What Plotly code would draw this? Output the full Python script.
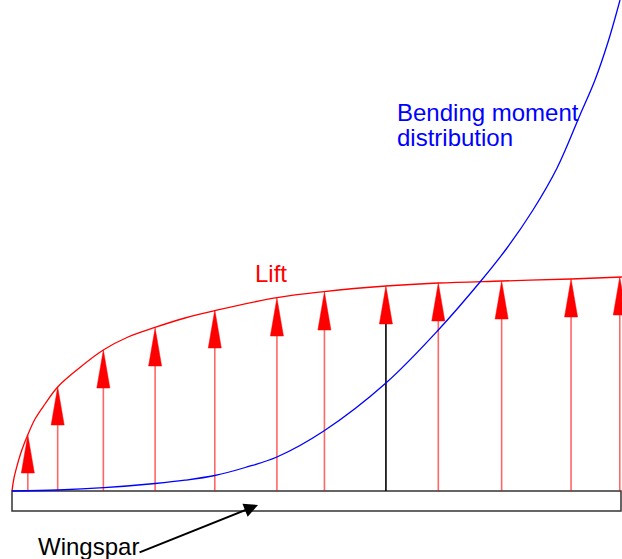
import plotly.graph_objects as go

# ---- data (span station in m, loads in arbitrary units) ----
lift_x = [0.0, 0.033, 0.082, 0.156, 0.258, 0.378, 0.542, 0.75, 1.084, 1.499, 1.905, 2.348, 2.84, 3.333, 4.351, 5.123, 6.141, 6.995, 8.046, 9.179, 10.016]
lift_y = [0.0, 0.65, 1.25, 2.0, 2.8, 3.6, 4.35, 5.2, 6.1, 7.05, 7.7, 8.18, 8.65, 9.02, 9.67, 9.97, 10.25, 10.4, 10.5, 10.6, 10.7]

moment_x = [0.0, 0.755, 1.51, 2.35, 2.84, 3.33, 3.83, 4.35, 5.12, 6.14, 7.0, 7.685, 8.128, 8.555, 8.95, 9.327, 9.573, 9.787, 9.984]
moment_y = [0.0, 0.05, 0.165, 0.375, 0.54, 0.775, 1.175, 1.7, 3.0, 5.4, 8.05, 10.45, 12.15, 14.05, 16.15, 18.8, 20.55, 22.45, 24.55]

arrow_x = [0.26, 0.75, 1.50, 2.35, 3.33, 4.35, 5.13, 6.14, 7.00, 8.04, 9.18, 9.98]
arrow_lift = [2.8, 5.2, 7.05, 8.15, 9.05, 9.65, 9.95, 10.25, 10.4, 10.5, 10.6, 10.7]
black_arrow_index = 7

spar_start, spar_end = 0.0, 10.0
spar_depth = 1.0

# ---- styles ----
RED = "#ff0000"
BLUE = "#0000ff"
FONT = "Liberation Sans, Arial, sans-serif"
head_half = 0.107
head_len = 1.9

fig = go.Figure()

# spar
fig.add_shape(type="rect", x0=spar_start, x1=spar_end, y0=-spar_depth, y1=0,
              line=dict(color="#333333", width=1.5), fillcolor="white", layer="below")

# arrow shafts
for i, (x, L) in enumerate(zip(arrow_x, arrow_lift)):
    col = "black" if i == black_arrow_index else "rgba(255,0,0,0.6)"
    fig.add_trace(go.Scatter(x=[x, x], y=[0, L - head_len + 0.05], mode="lines",
                             line=dict(color=col, width=1.6), hoverinfo="skip", showlegend=False))

# arrow heads
hx, hy = [], []
for x, L in zip(arrow_x, arrow_lift):
    hx += [x - head_half, x, x + head_half, x - head_half, None]
    hy += [L - head_len, L, L - head_len, L - head_len, None]
fig.add_trace(go.Scatter(x=hx, y=hy, mode="lines", fill="toself", fillcolor=RED,
                         line=dict(color=RED, width=0.5), hoverinfo="skip", showlegend=False))

# lift curve
fig.add_trace(go.Scatter(x=lift_x, y=lift_y, mode="lines",
                         line=dict(color=RED, width=1.3, shape="spline", smoothing=1.0),
                         hoverinfo="skip", showlegend=False))
# bending moment curve
fig.add_trace(go.Scatter(x=moment_x, y=moment_y, mode="lines",
                         line=dict(color=BLUE, width=1.3, shape="spline", smoothing=1.0),
                         hoverinfo="skip", showlegend=False))

# labels
fig.add_annotation(x=4.25, y=10.9, text="Lift", showarrow=False, font=dict(family=FONT, size=24, color=RED),
                   xanchor="center", yanchor="middle")
fig.add_annotation(x=6.29, y=18.95, text="Bending moment", showarrow=False, font=dict(family=FONT, size=24, color=BLUE),
                   xanchor="left", yanchor="middle")
fig.add_annotation(x=6.29, y=17.7, text="distribution", showarrow=False, font=dict(family=FONT, size=24, color=BLUE),
                   xanchor="left", yanchor="middle")
fig.add_annotation(x=2.12, y=-2.75, text="Wingspar", showarrow=False, font=dict(family=FONT, size=24, color="black"),
                   xanchor="right", yanchor="middle")
fig.add_annotation(x=4.04, y=-0.7, ax=2.07, ay=-3.1, axref="x", ayref="y", xref="x", yref="y", text="",
                   showarrow=True, arrowhead=2, arrowsize=1.4, arrowwidth=2, arrowcolor="black")

fig.update_layout(
    width=622, height=559,
    margin=dict(l=0, r=0, t=0, b=0),
    paper_bgcolor="white", plot_bgcolor="white",
    xaxis=dict(range=[-12 / 60.9, 610 / 60.9], visible=False, fixedrange=True),
    yaxis=dict(range=[-68 / 20, 491 / 20], visible=False, fixedrange=True),
    showlegend=False,
)

fig.write_html("out.html", config={"displayModeBar": False, "staticPlot": True},
               post_script="document.body.style.margin='0px';document.body.style.overflow='hidden';")
